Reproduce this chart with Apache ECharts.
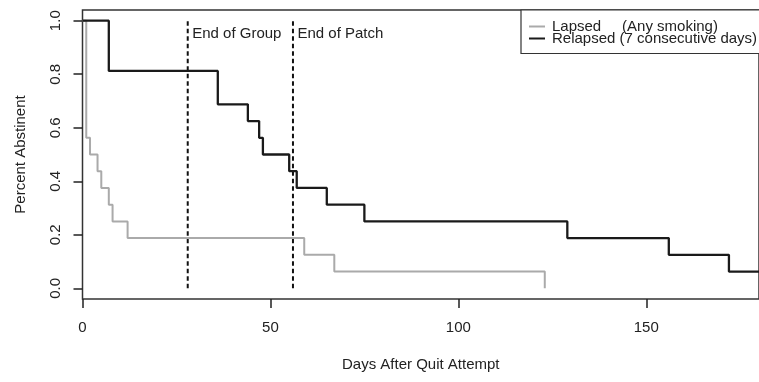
<!DOCTYPE html>
<html>
<head>
<meta charset="utf-8">
<script src="https://cdn.jsdelivr.net/npm/echarts@6/dist/echarts.min.js"></script>
<style>
html,body{margin:0;padding:0;background:#fff;}
#c{width:759px;height:382px;}
</style>
</head>
<body>
<div id="c"></div>
<script>
// Kaplan-Meier style step data (time in days, proportion abstinent)
var relapsedDays   = [0, 7, 36, 44, 47, 48, 55, 57, 65, 75, 129, 156, 172, 180];
var relapsedValues = [1, 0.8125, 0.6875, 0.625, 0.5625, 0.5, 0.4375, 0.375, 0.3125, 0.25, 0.1875, 0.125, 0.0625, 0.0625];
var lapsedDays     = [0, 1, 2, 4, 5, 7, 8, 12, 59, 67, 123];
var lapsedValues   = [1, 0.5625, 0.5, 0.4375, 0.375, 0.3125, 0.25, 0.1875, 0.125, 0.0625, 0];
var markerDays     = [28, 56];
var markerLabels   = ['End of Group', 'End of Patch'];
var xTicks = [0, 50, 100, 150];
var yTicks = [0, 0.2, 0.4, 0.6, 0.8, 1.0];
var seriesNames = ['Lapsed     (Any smoking)', 'Relapsed (7 consecutive days)'];

function pairs(xs, ys) { return xs.map(function (x, i) { return [x, ys[i]]; }); }

var FONT = 'Liberation Sans, Arial, Helvetica, sans-serif';
var chart = echarts.init(document.getElementById('c'), null, {renderer: 'canvas'});

var markerSeries = markerDays.map(function (d) {
  return {
    type: 'line', name: 'marker' + d, data: [[d, 0], [d, 1]],
    symbol: 'none', silent: true, z: 1,
    lineStyle: {color: '#111', width: 2, type: [4.5, 3]}
  };
});

chart.setOption({
  animation: false,
  backgroundColor: '#fff',
  grid: {left: 82.5, top: 10, width: 684, height: 289, show: true,
         borderColor: '#333', borderWidth: 1.5, backgroundColor: 'transparent'},
  xAxis: {
    type: 'value', min: 0, max: 180,
    axisLine: {show: false, onZero: false},
    splitLine: {show: false},
    axisTick: {show: true, inside: false, length: 9, lineStyle: {color: '#222', width: 1.5}, customValues: xTicks},
    axisLabel: {fontFamily: FONT, fontSize: 15, color: '#222', margin: 21, customValues: xTicks},
    name: 'Days After Quit Attempt', nameLocation: 'middle', nameGap: 58,
    nameTextStyle: {fontFamily: FONT, fontSize: 15, color: '#222'}
  },
  yAxis: {
    type: 'value', min: -0.04, max: 1.04,
    axisLine: {show: false, onZero: false},
    splitLine: {show: false},
    axisTick: {show: true, inside: false, length: 9, lineStyle: {color: '#222', width: 1.5}, customValues: yTicks},
    axisLabel: {fontFamily: FONT, fontSize: 15, color: '#222', margin: 19, rotate: 90,
                customValues: yTicks, formatter: function (v) { return v.toFixed(1); }},
    name: 'Percent Abstinent', nameLocation: 'middle', nameGap: 54, nameRotate: 90,
    nameTextStyle: {fontFamily: FONT, fontSize: 15, color: '#222'}
  },
  legend: {
    show: true, data: seriesNames, left: 521, top: 10, orient: 'vertical',
    itemGap: -3, itemWidth: 16, itemHeight: 2, icon: 'rect', selectedMode: false,
    padding: [9, 30, 7.5, 8], borderColor: '#333', borderWidth: 1.2, backgroundColor: '#fff',
    textStyle: {fontFamily: FONT, fontSize: 15, color: '#222', lineHeight: 13, padding: [0, 0, 0, 2]}
  },
  series: markerSeries.concat([
    {type: 'line', name: seriesNames[0], data: pairs(lapsedDays, lapsedValues), step: 'end',
     symbol: 'none', z: 2, color: '#aaaaaa', lineStyle: {color: '#aaaaaa', width: 2}},
    {type: 'line', name: seriesNames[1], data: pairs(relapsedDays, relapsedValues), step: 'end',
     symbol: 'none', z: 3, color: '#1a1a1a', lineStyle: {color: '#1a1a1a', width: 2.3}}
  ])
});

// Annotation labels anchored to the marker lines via the chart's scales
var gfx = markerDays.map(function (d, i) {
  var p = chart.convertToPixel({gridIndex: 0}, [d, 1]);
  return {type: 'text', left: p[0] + 4.5, top: p[1] + 13.5 - 8,
          style: {text: markerLabels[i], font: '15px ' + FONT, fill: '#222'}};
});
chart.setOption({graphic: gfx});
</script>
</body>
</html>
